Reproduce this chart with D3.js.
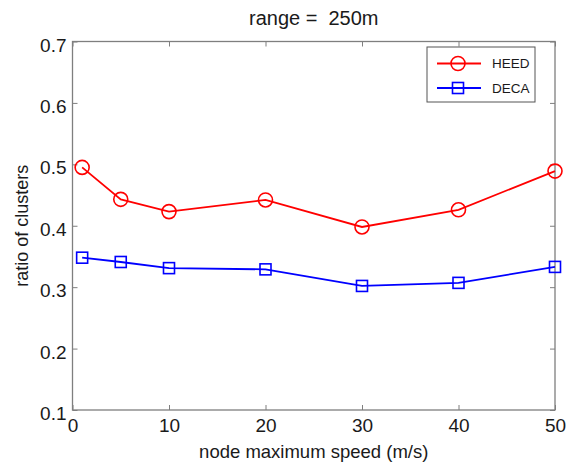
<!DOCTYPE html>
<html>
<head>
<meta charset="utf-8">
<script src="https://cdn.jsdelivr.net/npm/d3@7"></script>
<style>
  body { margin: 0; background: #fff; }
  text { font-family: "Liberation Sans", Arial, sans-serif; fill: #1a1a1a; }
</style>
</head>
<body>
<div id="chart"></div>
<script>
// values
let speeds = [1, 5, 10, 20, 30, 40, 50];
let heed = [0.495, 0.443, 0.423, 0.442, 0.398, 0.426, 0.489];
let deca = [0.348, 0.341, 0.331, 0.329, 0.302, 0.307, 0.333];
let xTicks = [0, 10, 20, 30, 40, 50];
let yTicks = [0.1, 0.2, 0.3, 0.4, 0.5, 0.6, 0.7];
let seriesNames = ["HEED", "DECA"];

let width = 574, height = 464;
let margin = {top: 41.5, right: 19, bottom: 54, left: 72.5};
let w = width - margin.left - margin.right;
let h = height - margin.top - margin.bottom;

let svg = d3.select("#chart").append("svg")
    .attr("width", width)
    .attr("height", height);

let g = svg.append("g")
    .attr("transform", `translate(${margin.left},${margin.top})`);

let x = d3.scaleLinear().domain([0, 50]).range([0, w]);
let y = d3.scaleLinear().domain([0.1, 0.7]).range([h, 0]);

let axisColor = "#7f7f7f";

// MATLAB style: ticks pointing inward on all four sides
function styleAxis(sel) {
    sel.select(".domain").remove();
    sel.selectAll(".tick line").attr("stroke", axisColor);
    sel.selectAll(".tick text").attr("font-size", 19).attr("fill", "#1a1a1a");
}

g.append("g")
    .attr("transform", `translate(0,${h})`)
    .call(d3.axisBottom(x).tickValues(xTicks).tickSizeInner(-5).tickSizeOuter(0).tickPadding(9))
    .call(styleAxis);

g.append("g")
    .call(d3.axisTop(x).tickValues(xTicks).tickSizeInner(-5).tickSizeOuter(0).tickFormat(""))
    .call(styleAxis);

g.append("g")
    .call(d3.axisLeft(y).tickValues(yTicks).tickSizeInner(-5).tickSizeOuter(0).tickPadding(6).tickFormat(d3.format(".1f")))
    .call(styleAxis);

g.selectAll(".tick text").attr("dy", function() {
    return d3.select(this).attr("dy") == "0.32em" ? "0.5em" : d3.select(this).attr("dy");
});

g.append("g")
    .attr("transform", `translate(${w},0)`)
    .call(d3.axisRight(y).tickValues(yTicks).tickSizeInner(-5).tickSizeOuter(0).tickFormat(""))
    .call(styleAxis);

g.append("rect")
    .attr("width", w)
    .attr("height", h)
    .attr("fill", "none")
    .attr("stroke", axisColor)
    .attr("stroke-width", 1.3);

// lines
let line = d3.line()
    .x((d, i) => x(speeds[i]))
    .y(d => y(d));

let series = [
    {name: seriesNames[0], values: heed, color: "#ff0000", marker: "circle"},
    {name: seriesNames[1], values: deca, color: "#0000ff", marker: "square"}
];

series.forEach(s => {
    g.append("path")
        .datum(s.values)
        .attr("d", line)
        .attr("fill", "none")
        .attr("stroke", s.color)
        .attr("stroke-width", 1.8);

    if (s.marker == "circle") {
        g.selectAll(".m-" + s.name)
            .data(s.values)
            .enter()
            .append("circle")
            .attr("cx", (d, i) => x(speeds[i]))
            .attr("cy", d => y(d))
            .attr("r", 7)
            .attr("fill", "none")
            .attr("stroke", s.color)
            .attr("stroke-width", 1.6);
    } else {
        g.selectAll(".m-" + s.name)
            .data(s.values)
            .enter()
            .append("rect")
            .attr("x", (d, i) => x(speeds[i]) - 5.5)
            .attr("y", d => y(d) - 5.5)
            .attr("width", 11)
            .attr("height", 11)
            .attr("fill", "none")
            .attr("stroke", s.color)
            .attr("stroke-width", 1.6);
    }
});

// legend
let legend = svg.append("g").attr("transform", "translate(427,47)");
legend.append("rect")
    .attr("width", 108)
    .attr("height", 55)
    .attr("fill", "#fff")
    .attr("stroke", "#555")
    .attr("stroke-width", 1);

series.forEach((s, i) => {
    let ly = 16.5 + i * 24.5;
    legend.append("line")
        .attr("x1", 10).attr("x2", 54)
        .attr("y1", ly).attr("y2", ly)
        .attr("stroke", s.color)
        .attr("stroke-width", 1.8);
    if (s.marker == "circle") {
        legend.append("circle")
            .attr("cx", 31).attr("cy", ly).attr("r", 7)
            .attr("fill", "none").attr("stroke", s.color).attr("stroke-width", 1.6);
    } else {
        legend.append("rect")
            .attr("x", 25.5).attr("y", ly - 5.5).attr("width", 11).attr("height", 11)
            .attr("fill", "none").attr("stroke", s.color).attr("stroke-width", 1.6);
    }
    legend.append("text")
        .attr("x", 65)
        .attr("y", ly)
        .attr("dy", "0.35em")
        .attr("font-size", 13.5)
        .text(s.name);
});

// title and axis labels
svg.append("text")
    .attr("x", margin.left + w / 2)
    .attr("y", 25)
    .attr("text-anchor", "middle")
    .attr("font-size", 20)
    .attr("xml:space", "preserve")
    .text("range =  250m");

svg.append("text")
    .attr("x", margin.left + w / 2)
    .attr("y", 458)
    .attr("text-anchor", "middle")
    .attr("font-size", 18.5)
    .text("node maximum speed (m/s)");

svg.append("text")
    .attr("transform", `translate(28,${margin.top + h / 2}) rotate(-90)`)
    .attr("text-anchor", "middle")
    .attr("font-size", 18)
    .text("ratio of clusters");
</script>
</body>
</html>
